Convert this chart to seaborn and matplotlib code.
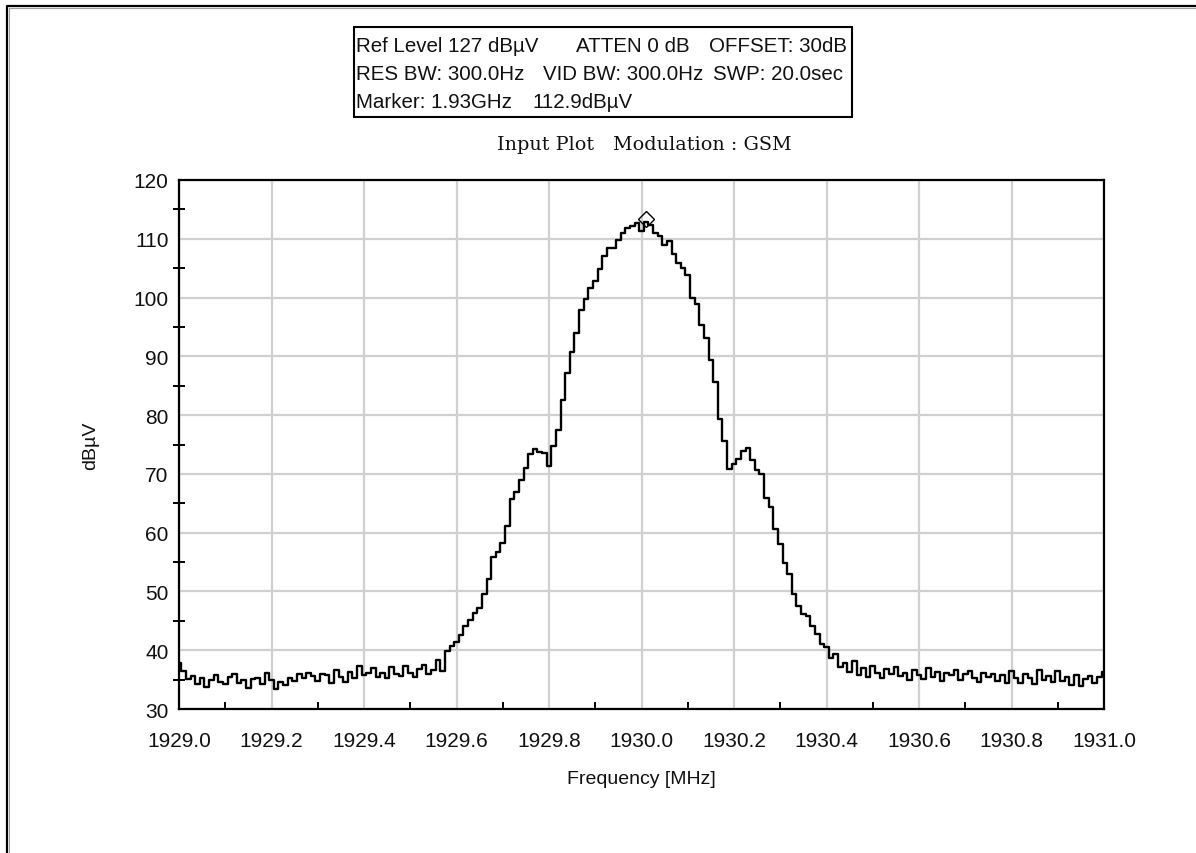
import numpy as np
import pandas as pd
import matplotlib
matplotlib.use("Agg")
import matplotlib.pyplot as plt
from matplotlib.lines import Line2D
from matplotlib.patches import Rectangle
from matplotlib.ticker import MultipleLocator, FormatStrFormatter
import seaborn as sns

# ---------------- data ----------------
sweep_start_mhz = 1929.0
sweep_stop_mhz = 1931.0

level_dbuv = [
    37.8, 36.4, 35.1, 35.6, 34.3, 35.2, 33.8, 34.9, 35.7, 34.6,
    34.3, 35.4, 36.0, 34.5, 34.9, 33.6, 35.1, 35.3, 34.2, 36.1,
    35.0, 33.4, 34.6, 34.1, 35.2, 34.8, 35.9, 35.3, 36.2, 35.6,
    34.8, 36.0, 35.7, 34.5, 36.6, 35.4, 34.6, 36.3, 35.2, 37.3,
    35.7, 36.2, 36.9, 35.5, 36.1, 35.3, 37.1, 36.0, 35.6, 37.4,
    36.1, 35.5, 36.8, 37.5, 35.9, 36.7, 38.3, 36.4, 39.8, 40.7,
    41.4, 42.6, 44.1, 45.2, 46.4, 47.1, 49.5, 52.1, 55.8, 56.7,
    58.2, 61.2, 65.8, 66.9, 68.9, 71.0, 73.3, 74.3, 73.7, 73.5,
    71.3, 74.8, 77.4, 82.6, 87.1, 90.7, 94.0, 97.9, 99.7, 101.6,
    102.8, 104.9, 107.0, 108.5, 108.4, 109.8, 110.9, 111.8, 112.1, 112.7,
    111.4, 112.9, 112.4, 111.0, 110.4, 108.9, 109.7, 107.4, 105.9, 105.0,
    103.9, 100.0, 98.9, 95.3, 93.1, 89.4, 85.6, 79.3, 75.6, 70.8,
    71.7, 72.6, 73.9, 74.4, 72.3, 70.6, 69.9, 65.9, 64.3, 60.6,
    58.1, 54.8, 52.9, 49.5, 47.6, 46.1, 45.9, 44.2, 42.7, 41.1,
    40.5, 38.7, 39.4, 37.2, 37.9, 36.3, 38.1, 35.8, 36.9, 35.4,
    37.3, 36.1, 35.2, 36.8, 35.9, 37.2, 35.6, 36.2, 34.9, 36.7,
    35.8, 35.1, 36.9, 35.5, 36.3, 34.8, 36.1, 35.7, 36.6, 35.0,
    35.9, 36.4, 35.2, 34.6, 36.2, 35.5, 36.0, 34.7, 35.8, 34.5,
    36.5, 35.3, 34.4, 35.9, 35.2, 34.3, 36.7, 35.0, 35.6, 34.6,
    36.4, 34.8, 35.5, 34.1, 35.7, 33.9, 35.1, 35.6, 34.4, 35.4,
    36.3,
]

marker_freq_mhz = 1930.01
marker_level_dbuv = 112.9

x_ticks = [1929.0, 1929.2, 1929.4, 1929.6, 1929.8, 1930.0,
           1930.2, 1930.4, 1930.6, 1930.8, 1931.0]
y_ticks = [30, 40, 50, 60, 70, 80, 90, 100, 110, 120]

info_line1 = ["Ref Level 127 dB\u00b5V", "ATTEN 0 dB", "OFFSET: 30dB"]
info_line2 = ["RES BW: 300.0Hz", "VID BW: 300.0Hz", "SWP: 20.0sec"]
info_line3 = ["Marker: 1.93GHz", "112.9dB\u00b5V"]
subtitle_parts = ["Input Plot", "Modulation : GSM"]
x_label = "Frequency [MHz]"
y_label = "dB\u00b5V"

freq_mhz = np.linspace(sweep_start_mhz, sweep_stop_mhz, len(level_dbuv))
df = pd.DataFrame({"freq": freq_mhz, "level": level_dbuv})

# ---------------- styling ----------------
sns.set_theme(style="white")
plt.rcParams["font.family"] = ["Liberation Sans", "DejaVu Sans"]

W, H = 1196, 854
fig = plt.figure(figsize=(W / 100, H / 100), dpi=100)
fig.patch.set_facecolor("white")

ax_l, ax_r, ax_t, ax_b = 179, 1104, 181, 710
ax = fig.add_axes([ax_l / W, 1 - ax_b / H, (ax_r - ax_l) / W, (ax_b - ax_t) / H])
ax.set_facecolor("white")

sns.lineplot(data=df, x="freq", y="level", ax=ax, color="black",
             linewidth=1.7, drawstyle="steps-mid", zorder=3)
ax.plot([marker_freq_mhz], [marker_level_dbuv + 0.4], marker="D", markersize=8,
        markerfacecolor="none", markeredgecolor="black", markeredgewidth=1.0,
        linestyle="none", zorder=4)

ax.set_xlim(sweep_start_mhz, sweep_stop_mhz)
ax.set_ylim(30, 120)
ax.set_xticks(x_ticks)
ax.set_yticks(y_ticks)
ax.xaxis.set_major_formatter(FormatStrFormatter("%.1f"))
ax.xaxis.set_minor_locator(MultipleLocator(0.1))
ax.yaxis.set_minor_locator(MultipleLocator(5))

ax.grid(True, which="major", color="#d0d0d0", linewidth=1.6, zorder=0)
ax.set_axisbelow(True)
for s in ax.spines.values():
    s.set_color("black")
    s.set_linewidth(1.6)
    s.set_visible(True)

ax.tick_params(axis="x", which="major", direction="out", length=4, width=1.4,
               color="black", labelsize=15, pad=12, labelcolor="#111111")
ax.tick_params(axis="x", which="minor", direction="in", length=5, width=1.4,
               color="black", bottom=True)
ax.tick_params(axis="y", which="major", direction="out", length=4.5, width=1.4,
               color="black", labelsize=15, pad=3, labelcolor="#111111")
ax.tick_params(axis="y", which="minor", direction="inout", length=8, width=1.4,
               color="black", left=True)
ax.tick_params(top=False, right=False, which="both")

ax.set_xlabel(x_label, fontsize=14, labelpad=14, color="#111111")
ax.set_ylabel(y_label, fontsize=14, labelpad=25, color="#111111")

# ---------------- annotations ----------------
def fx(px):
    return px / W

def fy(py):
    return 1 - py / H

fig.add_artist(Rectangle((fx(354), fy(118)), (852 - 354) / W, (118 - 28) / H,
                         transform=fig.transFigure, fill=False,
                         edgecolor="black", linewidth=1.5))

info_rows = [
    (47, info_line1, [356, 576, 709]),
    (75, info_line2, [356, 543, 713]),
    (102, info_line3, [356, 533]),
]
for py, texts, xs in info_rows:
    for t, px in zip(texts, xs):
        fig.text(fx(px), fy(py), t, ha="left", va="center", fontsize=14.8,
                 color="#111111")

for t, px in zip(subtitle_parts, [497, 613]):
    fig.text(fx(px), fy(145), t, ha="left", va="center", fontsize=13.8,
             family=["DejaVu Serif"], color="#111111")

# outer frame (left and top edges)
fig.add_artist(Line2D([fx(7), fx(7), fx(W)], [fy(H), fy(7), fy(7)],
                      transform=fig.transFigure, color="black", linewidth=1.6))
fig.add_artist(Line2D([fx(9), fx(9), fx(W)], [fy(H), fy(9), fy(9)],
                      transform=fig.transFigure, color="#a0a0a0", linewidth=0.8))

fig.savefig("out.png", dpi=100, facecolor="white")
